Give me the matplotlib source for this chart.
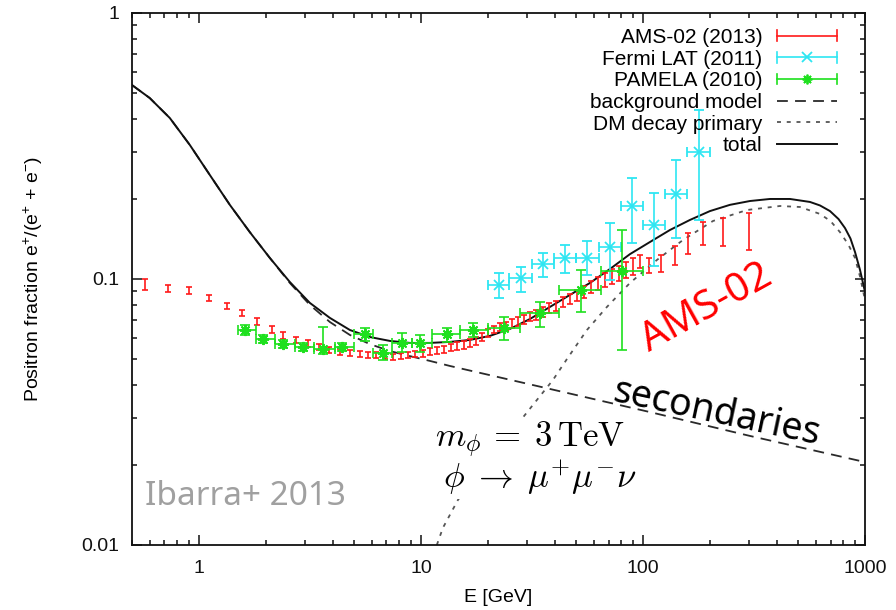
import numpy as np
import matplotlib
matplotlib.use('Agg')
import matplotlib.pyplot as plt
from matplotlib.lines import Line2D
from matplotlib.legend_handler import HandlerBase
from matplotlib.ticker import FixedLocator, LogLocator, NullFormatter

plt.rcParams['font.family'] = ['Liberation Sans', 'DejaVu Sans']
plt.rcParams['mathtext.fontset'] = 'custom'
plt.rcParams['mathtext.rm'] = 'Liberation Sans'
plt.rcParams['mathtext.it'] = 'Liberation Sans:italic'

#----------------------------------#
#   AMS-02 (2013) positron fraction
#----------------------------------#
ams_e = [0.57, 0.73, 0.90, 1.11, 1.34, 1.56, 1.83, 2.13, 2.39, 2.74,
         3.10, 3.47, 3.85, 4.32, 4.79, 5.31, 5.77, 6.3, 6.9, 7.5,
         8.1, 8.75, 9.45, 10.2, 11.0, 11.85, 12.75, 13.65, 14.6, 15.6,
         16.65, 17.75, 18.9, 20.1, 21.35, 22.7, 24.15, 25.7, 27.35, 29.1,
         31.0, 33.05, 35.3, 37.75, 40.45, 43.5, 46.8, 50.35, 54.15, 58.2,
         62.55, 67.25, 72.3, 77.7, 83.5, 89.75, 96.5, 106, 120, 139,
         159, 186, 229, 300]
ams_frac = [0.0955, 0.0923, 0.0904, 0.0846, 0.0792, 0.0743, 0.0691, 0.0647, 0.0612, 0.0590,
            0.0573, 0.0557, 0.0541, 0.0533, 0.0526, 0.0521, 0.0518, 0.0517, 0.0513, 0.0510,
            0.0513, 0.0518, 0.0522, 0.0526, 0.0532, 0.0538, 0.0545, 0.0553, 0.0560, 0.0565,
            0.0575, 0.0587, 0.0605, 0.0627, 0.0646, 0.0660, 0.0668, 0.0680, 0.0692, 0.0704,
            0.0723, 0.0732, 0.0751, 0.0778, 0.0795, 0.0820, 0.0841, 0.0867, 0.0894, 0.0933,
            0.0962, 0.0996, 0.1026, 0.1053, 0.1081, 0.1119, 0.1169, 0.1129, 0.1144, 0.1231,
            0.1365, 0.1489, 0.1515, 0.1528]
ams_err = [0.0045, 0.0030, 0.0025, 0.0022, 0.0022, 0.0020, 0.0020, 0.0018, 0.0018, 0.0016,
           0.0016, 0.0015, 0.0015, 0.0014, 0.0014, 0.0014, 0.0014, 0.0014, 0.0014, 0.0014,
           0.0014, 0.0015, 0.0015, 0.0015, 0.0016, 0.0016, 0.0017, 0.0017, 0.0018, 0.0018,
           0.0019, 0.0020, 0.0020, 0.0021, 0.0022, 0.0023, 0.0024, 0.0025, 0.0026, 0.0027,
           0.0028, 0.0030, 0.0031, 0.0033, 0.0035, 0.0037, 0.0039, 0.0042, 0.0045, 0.0048,
           0.0055, 0.0060, 0.0065, 0.0070, 0.0075, 0.0080, 0.0065, 0.0074, 0.0085, 0.0100,
           0.0120, 0.0150, 0.0180, 0.0240]

#----------------------------------#
#   Fermi LAT (2011)
#----------------------------------#
fermi_e = [22.4, 28.1, 35.4, 44.6, 56.2, 70.7, 89.1, 112, 141, 178]
fermi_e_lo = [20, 25, 31.6, 39.8, 50.1, 63.1, 79.4, 100, 126, 158]
fermi_e_hi = [25, 31.6, 39.8, 50.1, 63.1, 79.4, 100, 126, 158, 200]
fermi_frac = [0.0949, 0.1009, 0.1139, 0.120, 0.120, 0.1319, 0.1881, 0.1596, 0.2087, 0.301]
fermi_lo = [0.0848, 0.0894, 0.1017, 0.1053, 0.1035, 0.0991, 0.1369, 0.1119, 0.1426, 0.1667]
fermi_hi = [0.1053, 0.1109, 0.1252, 0.1342, 0.139, 0.1623, 0.2403, 0.2105, 0.2802, 0.4317]

#----------------------------------#
#   PAMELA (2010)
#----------------------------------#
pam_e = [1.61, 1.94, 2.39, 2.94, 3.62, 4.41, 5.6, 6.75, 8.2, 9.9,
         13.1, 17.1, 23.7, 34.3, 52.5, 80.3]
pam_e_lo = [1.5, 1.8, 2.2, 2.7, 3.3, 4.1, 5.0, 6.1, 7.4, 9.1, 11.2, 15.0, 20.0, 28.0, 42.0, 65.0]
pam_e_hi = [1.8, 2.2, 2.7, 3.3, 4.1, 5.0, 6.1, 7.4, 9.1, 11.2, 15.0, 20.0, 28.0, 42.0, 65.0, 100.0]
pam_frac = [0.0643, 0.0595, 0.0569, 0.0555, 0.0546, 0.0555, 0.0621, 0.0527, 0.0575, 0.0575,
            0.0621, 0.0643, 0.0654, 0.0745, 0.0909, 0.1072]
pam_lo = [0.0616, 0.0575, 0.0550, 0.0536, 0.0522, 0.0536, 0.0585, 0.0496, 0.0531, 0.0531,
          0.0580, 0.0605, 0.0590, 0.0660, 0.0751, 0.0541]
pam_hi = [0.0672, 0.0616, 0.0590, 0.0575, 0.0660, 0.0575, 0.0654, 0.0565, 0.0627, 0.0616,
          0.0654, 0.0684, 0.0720, 0.0820, 0.1081, 0.1528]

#----------------------------------#
#   model curves
#----------------------------------#
tot_e = [0.5, 0.601, 0.740, 0.911, 1.121, 1.379, 1.697, 2.088, 2.570, 3.162,
         3.892, 4.789, 5.893, 7.25, 8.92, 10.98, 13.51, 16.62, 20.46, 25.17,
         30.97, 38.11, 46.9, 57.7, 71.0, 87.4, 107.5, 132.3, 162.8, 200.3,
         246.5, 303.4, 373.3, 459.4, 565.3, 627.0, 695.7, 760.0, 812.7, 860.0, 901.6, 950.0, 1000]
tot_frac = [0.536, 0.479, 0.403, 0.319, 0.246, 0.190, 0.150, 0.120, 0.0974, 0.0813,
            0.0714, 0.0643, 0.0605, 0.0585, 0.0575, 0.0575, 0.0580, 0.0590, 0.0611, 0.0649,
            0.0707, 0.0785, 0.0871, 0.0966, 0.109, 0.124, 0.1377, 0.1528, 0.1667, 0.180,
            0.190, 0.1964, 0.1999, 0.1999, 0.1948, 0.189, 0.180, 0.168, 0.1554, 0.142, 0.1263, 0.108, 0.0894]

bg_e = [0.5, 0.601, 0.740, 0.911, 1.121, 1.379, 1.697, 2.088, 2.570, 3.162,
        3.892, 4.789, 5.893, 7.25, 8.92, 10.98, 13.51, 38.11, 107.5, 303.4, 1000]
bg_frac = [0.536, 0.479, 0.403, 0.319, 0.246, 0.190, 0.150, 0.120, 0.0966, 0.0799,
           0.0689, 0.0616, 0.0569, 0.0536, 0.0513, 0.0492, 0.0471, 0.0386, 0.0316, 0.0257, 0.0205]

dm_e = [11.8, 12.56, 14.68, 18.45, 22.69, 27.07, 33.31, 39.32, 45.47, 55.95,
        68.82, 87.4, 115.6, 151.4, 206.7, 294.1, 414.1, 509.5, 627.0, 700.0, 771.6, 840.0, 901.6, 950.0, 1000]
dm_frac = [0.0100, 0.01159, 0.01476, 0.01914, 0.02376, 0.02826, 0.0351, 0.0417, 0.0500, 0.0643,
           0.0785, 0.0966, 0.1179, 0.1401, 0.1652, 0.1817, 0.1881, 0.1865, 0.1756, 0.165, 0.150, 0.135,
           0.120, 0.102, 0.0834]

x_ticks = [1, 10, 100, 1000]
x_tick_labels = ['1', '10', '100', '1000']
y_ticks = [0.01, 0.1, 1]
y_tick_labels = ['0.01', '0.1', '1']

ams_color = '#ff1a1a'
fermi_color = '#2ee6f2'
pam_color = '#1ee01e'


class ErrKey:
    def __init__(self, color, marker=None):
        self.color = color
        self.marker = marker


class HandlerErrKey(HandlerBase):
    #---------------------------------#
    #   gnuplot style key: bar with caps
    #---------------------------------#
    def create_artists(self, legend, orig_handle, xdescent, ydescent,
                       width, height, fontsize, trans):
        y = height / 2 - ydescent
        x0, x1 = -xdescent, width - xdescent
        c = orig_handle.color
        cap = 0.26 * fontsize
        arts = [Line2D([x0, x1], [y, y], color=c, lw=1.2),
                Line2D([x0, x0], [y - cap, y + cap], color=c, lw=1.2),
                Line2D([x1, x1], [y - cap, y + cap], color=c, lw=1.2)]
        if orig_handle.marker is not None:
            arts.append(Line2D([(x0 + x1) / 2], [y], marker=orig_handle.marker,
                               color=c, ms=7, mew=1.3, ls='none'))
        for a in arts:
            a.set_transform(trans)
        return arts


fig = plt.figure(figsize=(8.96, 6.10), dpi=100)
ax = fig.add_axes([0.1473, 0.1066, 0.8181, 0.8721])
ax.set_xscale('log')
ax.set_yscale('log')

bg_style = dict(color='#2a2a2a', lw=1.3, dashes=(6, 4))
dm_style = dict(color='#555555', lw=1.3, dashes=(2.2, 3.2))
tot_style = dict(color='#111111', lw=1.4)
ax.plot(bg_e, bg_frac, **bg_style, zorder=2)
ax.plot(dm_e, dm_frac, **dm_style, zorder=2)
ax.plot(tot_e, tot_frac, **tot_style, zorder=2)

ax.errorbar(ams_e, ams_frac, yerr=ams_err, fmt='none', ecolor=ams_color,
            elinewidth=1.2, capsize=2.5, capthick=1.2, zorder=3)

f_e = np.array(fermi_e)
f_y = np.array(fermi_frac)
ax.errorbar(fermi_e, fermi_frac,
            xerr=[f_e - np.array(fermi_e_lo), np.array(fermi_e_hi) - f_e],
            yerr=[f_y - np.array(fermi_lo), np.array(fermi_hi) - f_y],
            fmt='x', color=fermi_color, ms=7, mew=1.3, elinewidth=1.2,
            capsize=3.5, capthick=1.2, zorder=4)

p_e = np.array(pam_e)
p_y = np.array(pam_frac)
ax.errorbar(pam_e, pam_frac,
            xerr=[p_e - np.array(pam_e_lo), np.array(pam_e_hi) - p_e],
            yerr=[p_y - np.array(pam_lo), np.array(pam_hi) - p_y],
            fmt='none', ecolor=pam_color, elinewidth=1.2,
            capsize=3.5, capthick=1.2, zorder=4)
ax.plot(pam_e, pam_frac, ls='none', marker=(8, 2, 0), color=pam_color,
        ms=8, mew=1.4, zorder=5)

ax.set_xlim(0.5, 1000)
ax.set_ylim(0.01, 1)
ax.xaxis.set_major_locator(FixedLocator(x_ticks))
ax.set_xticklabels(x_tick_labels)
ax.yaxis.set_major_locator(FixedLocator(y_ticks))
ax.set_yticklabels(y_tick_labels)
ax.xaxis.set_minor_locator(LogLocator(base=10, subs=np.arange(2, 10), numticks=30))
ax.yaxis.set_minor_locator(LogLocator(base=10, subs=np.arange(2, 10), numticks=30))
ax.xaxis.set_minor_formatter(NullFormatter())
ax.yaxis.set_minor_formatter(NullFormatter())
ax.tick_params(which='both', direction='in', top=True, right=True,
               labelsize=14, colors='#111111')
ax.tick_params(which='major', length=7, width=1.1)
ax.tick_params(which='minor', length=3.5, width=1.1)
ax.tick_params(axis='x', pad=11)
ax.tick_params(axis='y', pad=9)
for s in ax.spines.values():
    s.set_linewidth(1.3)
    s.set_color('#111111')

ax.set_xlabel('E [GeV]', fontsize=14)
ax.xaxis.set_label_coords(0.5, -0.082)
ax.set_ylabel('Positron fraction e$^{+}$/(e$^{+}$ + e$^{-}$)', fontsize=14)
ax.yaxis.set_label_coords(-0.118, 0.5)

handles = [ErrKey(ams_color), ErrKey(fermi_color, 'x'), ErrKey(pam_color, (8, 2, 0)),
           Line2D([], [], **bg_style), Line2D([], [], **dm_style), Line2D([], [], **tot_style)]
labels = ['AMS-02 (2013)', 'Fermi LAT (2011)', 'PAMELA (2010)',
          'background model', 'DM decay primary', 'total']
ax.legend(handles, labels, handler_map={ErrKey: HandlerErrKey()},
          loc='upper right', bbox_to_anchor=(0.962, 0.972), frameon=False,
          markerfirst=False, fontsize=15, handlelength=2.9, handletextpad=0.7,
          labelspacing=0.13, borderpad=0, borderaxespad=0)

# annotations
ax.text(194, 0.0775, 'AMS-02', color='red', fontsize=29, family='Noto Sans',
        rotation=29, ha='center', va='center', zorder=6)
ax.text(215, 0.0313, 'secondaries', color='black', fontsize=27, family='Noto Sans',
        rotation=-12, ha='center', va='center', zorder=6)
ax.text(0.571, 0.01515, 'Ibarra+ 2013', color='#a0a0a0', fontsize=24, family='Noto Sans',
        ha='left', va='center', zorder=6)
box = dict(facecolor='white', edgecolor='none', pad=1.0)
ax.text(11.56, 0.0248, r'$m_\phi \,=\; 3\,\mathrm{TeV}$', fontsize=25, math_fontfamily='cm',
        ha='left', va='center', bbox=box, zorder=6)
ax.text(12.56, 0.01786, r'$\phi \;\to\; \mu^{{+}}\mu^{{-}}\nu$', fontsize=25, math_fontfamily='cm',
        ha='left', va='center', bbox=box, zorder=6)

fig.savefig('out.png', dpi=100)
